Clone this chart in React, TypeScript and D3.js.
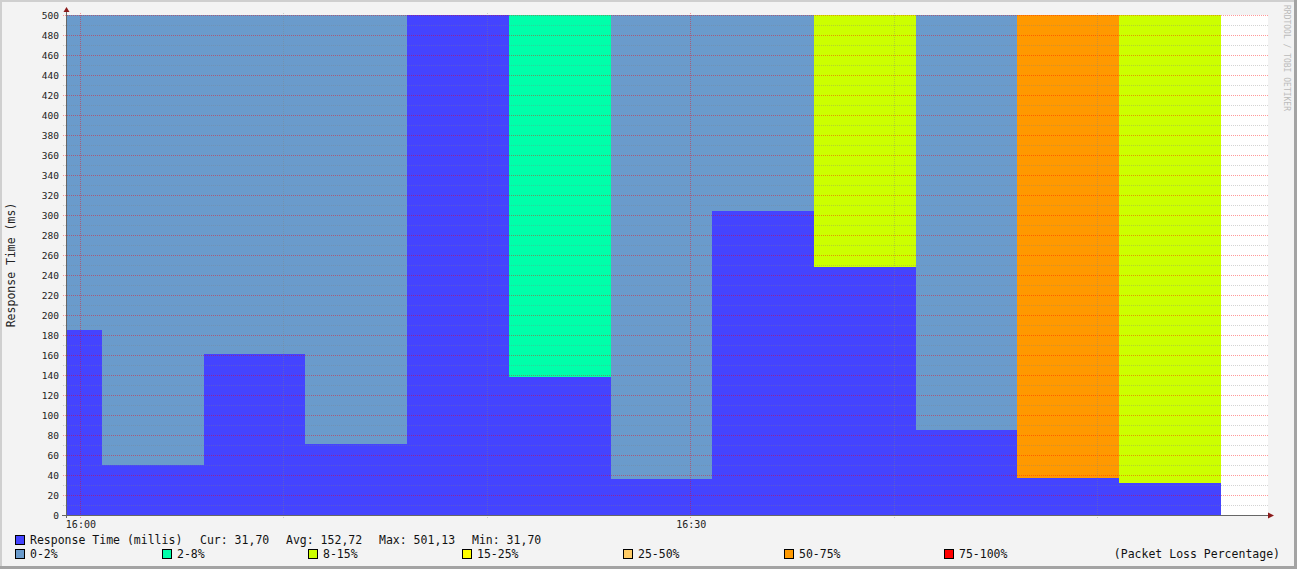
import React, { useEffect, useRef } from 'react';
import { select, scaleTime, scaleLinear, range } from 'd3';

// period boundaries (5 min steps) and values per period
const periodStarts = ['15:59:19', '16:01:05', '16:06:05', '16:11:05', '16:16:05', '16:21:05', '16:26:05', '16:31:05', '16:36:05', '16:41:05', '16:46:05', '16:51:05'];
const periodEnds = ['16:01:05', '16:06:05', '16:11:05', '16:16:05', '16:21:05', '16:26:05', '16:31:05', '16:36:05', '16:41:05', '16:46:05', '16:51:05', '16:56:05'];
const responseMs = [185, 50, 161, 71, 501.13, 138, 36, 304, 248, 85, 37, 31.7];
const lossBucket = [0, 0, 0, 0, 0, 1, 0, 0, 2, 0, 5, 2];

const lossLabels = ['0-2%', '2-8%', '8-15%', '15-25%', '25-50%', '50-75%', '75-100%'];
const lossColors = ['#6A9BCC', '#00FFAA', '#CCFF00', '#FFFF00', '#FFCC66', '#FF9900', '#FF0000'];
const lossLegendX = [15, 162, 308, 462, 623, 784, 944];

const xTicks = ['16:00', '16:10', '16:20', '16:30', '16:40', '16:50'];
const xLabeled = ['16:00', '16:30'];
const statsLine = [
  { x: 30, text: 'Response Time (millis)' },
  { x: 200, text: 'Cur: 31,70' },
  { x: 286, text: 'Avg: 152,72' },
  { x: 379, text: 'Max: 501,13' },
  { x: 472, text: 'Min: 31,70' },
];

const W = 1297;
const H = 569;
const mono = "'DejaVu Sans Mono', monospace";

const t = (s: string) => {
  const [h, m, sec] = s.split(':').map(Number);
  return new Date(2024, 0, 1, h, m, sec || 0);
};

const App = () => {
  const svgRef = useRef<SVGSVGElement>(null);

  useEffect(() => {
    const svg = select(svgRef.current);
    svg.selectAll('*').remove();

    const left = 66, right = 1268, top = 15, bottom = 515;
    const x = scaleTime().domain([t('15:59:19'), t('16:58:24')]).range([left, right]);
    const y = scaleLinear().domain([0, 500]).range([bottom, top]);

    // frame
    svg.append('rect').attr('width', W).attr('height', H).attr('fill', '#F3F3F3');
    svg.append('rect').attr('x', 0).attr('y', 0).attr('width', W).attr('height', 2).attr('fill', '#CFCFCF');
    svg.append('rect').attr('x', 0).attr('y', 0).attr('width', 2).attr('height', H).attr('fill', '#CFCFCF');
    svg.append('rect').attr('x', W - 3).attr('y', 0).attr('width', 3).attr('height', H).attr('fill', '#A3A3A3');
    svg.append('rect').attr('x', 0).attr('y', H - 3).attr('width', W).attr('height', 3).attr('fill', '#A3A3A3');

    // plot background
    svg.append('rect').attr('x', left).attr('y', top).attr('width', right - left).attr('height', bottom - top).attr('fill', '#FFFFFF');

    const periods = periodStarts.map((s, i) => ({
      x0: Math.round(x(t(s))), x1: Math.round(x(t(periodEnds[i]))), v: responseMs[i], loss: lossBucket[i],
    }));

    // loss background columns
    svg.append('g').attr('shape-rendering', 'crispEdges').selectAll('rect').data(periods).enter().append('rect')
      .attr('x', d => d.x0).attr('width', d => d.x1 - d.x0)
      .attr('y', y(500)).attr('height', y(0) - y(500))
      .attr('fill', d => lossColors[d.loss]);

    // response time area
    svg.append('g').attr('shape-rendering', 'crispEdges').selectAll('rect').data(periods).enter().append('rect')
      .attr('x', d => d.x0).attr('width', d => d.x1 - d.x0)
      .attr('y', d => Math.round(y(Math.min(d.v, 500)))).attr('height', d => y(0) - Math.round(y(Math.min(d.v, 500))))
      .attr('fill', '#4444FF');

    // grid
    const grid = svg.append('g').attr('shape-rendering', 'crispEdges');
    range(10, 501, 10).forEach(v => {
      const major = v % 20 === 0;
      grid.append('line')
        .attr('x1', left - 3).attr('x2', right).attr('y1', y(v) + 0.5).attr('y2', y(v) + 0.5)
        .attr('stroke', major ? 'rgba(255,0,0,0.4)' : 'rgba(128,128,128,0.35)')
        .attr('stroke-dasharray', '1,1');
    });
    xTicks.forEach(s => {
      const major = xLabeled.includes(s);
      const px = Math.round(x(t(s))) + 0.5;
      grid.append('line')
        .attr('x1', px).attr('x2', px).attr('y1', top - 2).attr('y2', bottom + 3)
        .attr('stroke', major ? 'rgba(255,0,0,0.4)' : 'rgba(128,128,128,0.35)')
        .attr('stroke-dasharray', '1,1');
    });

    // axes
    const ax = svg.append('g').attr('shape-rendering', 'crispEdges');
    ax.append('line').attr('x1', left - 4).attr('x2', right + 2).attr('y1', bottom + 0.5).attr('y2', bottom + 0.5).attr('stroke', '#666');
    ax.append('line').attr('x1', left + 0.5).attr('x2', left + 0.5).attr('y1', bottom + 3).attr('y2', top - 6).attr('stroke', '#666');
    svg.append('path').attr('d', `M${right + 6},${bottom + 0.5} L${right},${bottom - 2.5} L${right},${bottom + 3.5} Z`).attr('fill', '#8B1A1A');
    svg.append('path').attr('d', `M${left + 0.5},${top - 8} L${left - 2.5},${top - 3} L${left + 3.5},${top - 3} Z`).attr('fill', '#8B1A1A');

    // y labels
    svg.append('g').selectAll('text').data(range(0, 501, 20)).enter().append('text')
      .attr('x', 59).attr('y', d => y(d) + 4)
      .attr('text-anchor', 'end').attr('font-family', mono).attr('font-size', 9.5).attr('fill', '#222')
      .text(d => d);

    // x labels
    svg.append('g').selectAll('text').data(xLabeled).enter().append('text')
      .attr('x', d => x(t(d)) + 1).attr('y', 528)
      .attr('text-anchor', 'middle').attr('font-family', mono).attr('font-size', 10).attr('fill', '#222')
      .text(d => d);

    // y axis title
    svg.append('text')
      .attr('transform', 'translate(15,265) rotate(-90)')
      .attr('text-anchor', 'middle').attr('font-family', mono).attr('font-size', 11.5).attr('fill', '#222')
      .text('Response Time (ms)');

    // watermark
    svg.append('text')
      .attr('transform', 'translate(1284,5) rotate(90)')
      .attr('font-family', mono).attr('font-size', 8).attr('fill', '#BBBBBB')
      .text('RRDTOOL / TOBI OETIKER');

    // legend row 1
    const leg = svg.append('g').attr('font-family', mono).attr('font-size', 11.5).attr('fill', '#111');
    leg.append('rect').attr('x', 15.5).attr('y', 535.5).attr('width', 9).attr('height', 9).attr('fill', '#4444FF').attr('stroke', '#000');
    statsLine.forEach(s => leg.append('text').attr('x', s.x).attr('y', 544).text(s.text));

    // legend row 2
    lossLabels.forEach((l, i) => {
      leg.append('rect').attr('x', lossLegendX[i] + 0.5).attr('y', 549.5).attr('width', 9).attr('height', 9)
        .attr('fill', lossColors[i]).attr('stroke', '#000');
      leg.append('text').attr('x', lossLegendX[i] + 15).attr('y', 558).text(l);
    });
    leg.append('text').attr('x', 1280).attr('y', 558).attr('text-anchor', 'end').text('(Packet Loss Percentage)');
  }, []);

  return (
    <svg ref={svgRef} width={W} height={H} style={{ position: 'absolute', left: 0, top: 0 }} />
  );
};

export default App;
